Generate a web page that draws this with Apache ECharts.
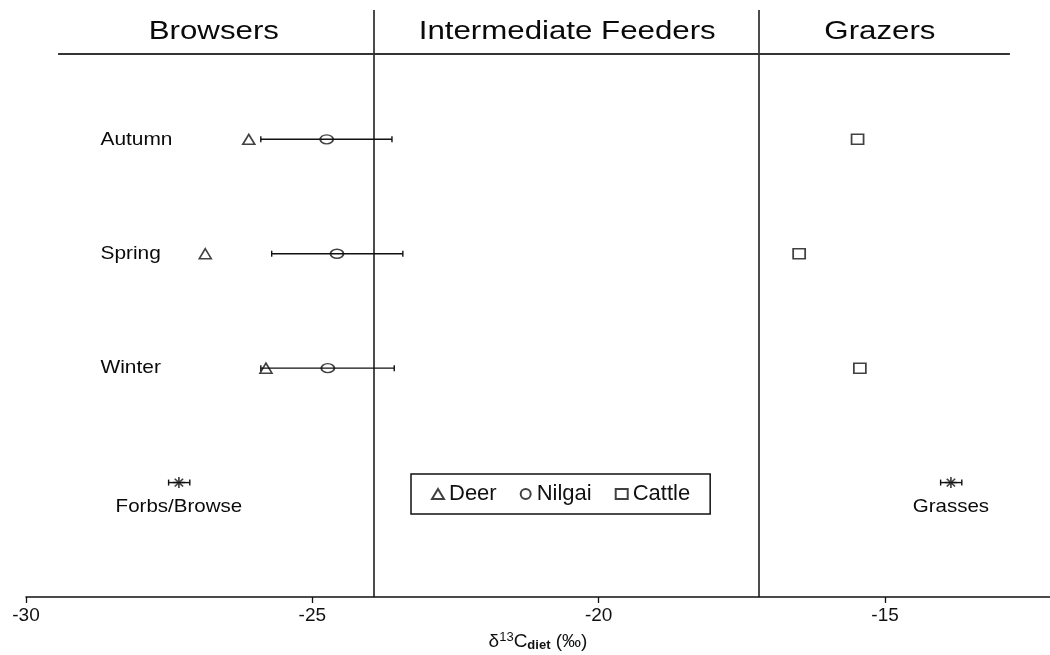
<!DOCTYPE html>
<html>
<head>
<meta charset="utf-8">
<script src="https://cdn.jsdelivr.net/npm/echarts@6/dist/echarts.min.js"></script>
<style>
  html, body { margin: 0; padding: 0; background: #fff; }
  #chart { width: 1050px; height: 655px; }
</style>
</head>
<body>
<div id="chart"></div>
<script>
// ---- data ----
const seasons = ['Autumn', 'Spring', 'Winter'];
const seasonRow = [4, 3, 2];
const deer = [-26.11, -26.87, -25.81];
const nilgai = [-24.75, -24.57, -24.73];
const nilgaiLow = [-25.90, -25.71, -25.90];
const nilgaiHigh = [-23.61, -23.42, -23.57];
const cattle = [-15.48, -16.50, -15.44];

const sources = ['Forbs/Browse', 'Grasses'];
const sourceRow = [1, 1];
const sourceMean = [-27.33, -13.85];
const sourceLow = [-27.51, -14.03];
const sourceHigh = [-27.14, -13.66];

const groups = ['Browsers', 'Intermediate Feeders', 'Grazers'];
const groupCenter = [-26.72, -20.55, -15.09];
const groupBounds = [-23.92, -17.2];

const xTicks = { min: -30, max: -12.12, interval: 5 };

// ---- layout helpers (data-space rows) ----
const headerRow = 4.94;
const headerRuleRow = 4.75;
const headerRuleX = [-29.44, -12.82];
const seasonLabelX = -28.70;
const sourceLabelRow = 0.79;

const FONT = '"Liberation Sans", Arial, sans-serif';

function textSeries(items, font, scaleX, align) {
  return {
    type: 'custom',
    silent: true,
    z: 6,
    data: items.map(it => [it[0], it[1]]),
    renderItem: function (params, api) {
      const p = api.coord([api.value(0), api.value(1)]);
      return {
        type: 'text',
        x: p[0], y: p[1],
        scaleX: scaleX,
        style: {
          text: items[params.dataIndex][2],
          font: font,
          fill: '#0a0a0a',
          textAlign: align, align: align,
          textVerticalAlign: 'middle', verticalAlign: 'middle'
        }
      };
    }
  };
}

function errorBarSeries(low, high, rows) {
  return {
    type: 'custom',
    silent: true,
    z: 3,
    data: low.map((l, i) => [l, high[i], rows[i]]),
    renderItem: function (params, api) {
      const a = api.coord([api.value(0), api.value(2)]);
      const b = api.coord([api.value(1), api.value(2)]);
      const h = 3;
      const st = { stroke: '#111', lineWidth: 1.4 };
      return {
        type: 'group',
        children: [
          { type: 'line', shape: { x1: a[0], y1: a[1], x2: b[0], y2: b[1] }, style: st },
          { type: 'line', shape: { x1: a[0], y1: a[1] - h, x2: a[0], y2: a[1] + h }, style: st },
          { type: 'line', shape: { x1: b[0], y1: b[1] - h, x2: b[0], y2: b[1] + h }, style: st }
        ]
      };
    }
  };
}

const hollow = { color: 'rgba(255,255,255,0)', borderColor: '#111', borderWidth: 1.6 };

const chart = echarts.init(document.getElementById('chart'));
chart.setOption({
  animation: false,
  backgroundColor: '#fff',
  grid: { left: 26, right: 0, top: 10, bottom: 58, containLabel: false, outerBoundsMode: 'none' },
  xAxis: {
    type: 'value',
    min: xTicks.min, max: xTicks.max, interval: xTicks.interval,
    splitLine: { show: false },
    axisLine: { show: true, onZero: false, lineStyle: { color: '#111', width: 1.5 } },
    axisTick: { show: true, length: 6, lineStyle: { color: '#111', width: 1.3 } },
    axisLabel: { fontFamily: FONT, fontSize: 19, color: '#111', margin: 9, showMaxLabel: false },
    name: '{a|δ}{sup|13}{a|C}{sub|diet}{a| (‰)}',
    nameLocation: 'middle',
    nameGap: 34,
    nameTextStyle: {
      rich: {
        a: { fontFamily: FONT, fontSize: 19, color: '#111' },
        sup: { fontFamily: FONT, fontSize: 13, color: '#111', verticalAlign: 'top', padding: [0, 0, 8, 0] },
        sub: { fontFamily: FONT, fontSize: 13, fontWeight: 'bold', color: '#111', verticalAlign: 'bottom', padding: [7, 0, 0, 0] }
      }
    }
  },
  yAxis: {
    type: 'value', min: 0, max: 5.13, show: false,
    splitLine: { show: false }
  },
  legend: {
    left: 411, top: 474,
    orient: 'horizontal',
    data: ['Deer', 'Nilgai', 'Cattle'],
    borderColor: '#111', borderWidth: 1.5,
    padding: [9, 20, 9, 20],
    itemGap: 23,
    itemWidth: 12, itemHeight: 10,
    textStyle: { fontFamily: FONT, fontSize: 22, color: '#111' },
    selectedMode: false
  },
  series: [
    {
      name: 'dividers', type: 'scatter', data: [], silent: true,
      markLine: {
        silent: true, symbol: 'none', label: { show: false },
        lineStyle: { color: '#111', width: 1.5, type: 'solid' },
        data: [
          { xAxis: groupBounds[0] }, { xAxis: groupBounds[1] },
          [{ coord: [headerRuleX[0], headerRuleRow] }, { coord: [headerRuleX[1], headerRuleRow], lineStyle: { color: '#333', width: 2 } }]
        ]
      }
    },
    errorBarSeries(nilgaiLow, nilgaiHigh, seasonRow),
    errorBarSeries(sourceLow, sourceHigh, sourceRow),
    {
      name: 'Deer', type: 'scatter', z: 4,
      symbol: 'triangle', symbolSize: [12, 10],
      itemStyle: hollow,
      data: deer.map((v, i) => [v, seasonRow[i]])
    },
    {
      name: 'Nilgai', type: 'scatter', z: 4,
      symbol: 'circle', symbolSize: [13, 9],
      itemStyle: hollow,
      data: nilgai.map((v, i) => [v, seasonRow[i]])
    },
    {
      name: 'Cattle', type: 'scatter', z: 4,
      symbol: 'rect', symbolSize: [12, 10],
      itemStyle: hollow,
      data: cattle.map((v, i) => [v, seasonRow[i]])
    },
    {
      name: 'Sources', type: 'scatter', z: 4,
      symbol: 'path://M0,5L10,5M5,0L5,10M1.5,1.5L8.5,8.5M8.5,1.5L1.5,8.5',
      symbolSize: [12, 11],
      itemStyle: { color: 'rgba(0,0,0,0)', borderColor: '#111', borderWidth: 1.6 },
      data: sourceMean.map((v, i) => [v, sourceRow[i]])
    },
    textSeries(groups.map((g, i) => [groupCenter[i], headerRow, g]), '25px ' + FONT, 1.25, 'center'),
    textSeries(seasons.map((s, i) => [seasonLabelX, seasonRow[i], s]), '19px ' + FONT, 1.1, 'left'),
    textSeries(sources.map((s, i) => [sourceMean[i], sourceLabelRow, s]), '19px ' + FONT, 1.08, 'center')
  ]
});
</script>
</body>
</html>
